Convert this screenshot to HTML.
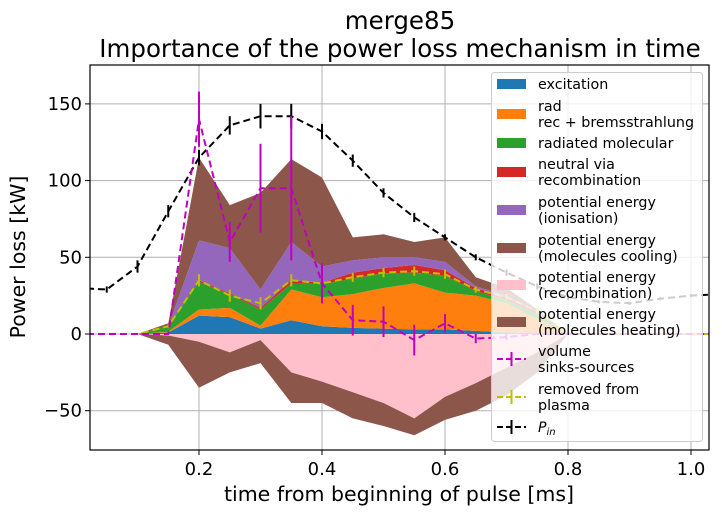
<!DOCTYPE html>
<html><head><meta charset="utf-8"><style>
body{margin:0;background:#fff;}
svg{display:block;font-family:"DejaVu Sans","Liberation Sans",sans-serif;}
</style></head><body>
<svg id="chart" width="722" height="515" viewBox="0 0 722 515" xmlns="http://www.w3.org/2000/svg">
<text x="400" y="29" text-anchor="middle" font-size="24.5">merge85</text>
<text x="400" y="57" text-anchor="middle" font-size="24.5">Importance of the power loss mechanism in time</text>
<g id="grid"></g>
<g id="areas"></g>
<g id="lines"></g>
<g id="axes"></g>
<text x="399" y="501" text-anchor="middle" font-size="20.5">time from beginning of pulse [ms]</text>
<text transform="translate(25,257) rotate(-90)" text-anchor="middle" font-size="20.5">Power loss [kW]</text>
<g id="legend"></g>
</svg>
<script>
const times = [0,0.05,0.1,0.15,0.2,0.25,0.3,0.35,0.4,0.45,0.5,0.55,0.6,0.65,0.7,0.75,0.8,0.85,0.9,0.95,1.0,1.05];
const excitation = [0,0,0,1,12,11,3.5,9,5,4,3.5,3,3,2,1,0.5,0,0,0,0,0,0];
const radRec = [0,0,0,0.5,4,6,2,20,19,22,26.5,30,24,23,19,9.5,0,0,0,0,0,0];
const radMol = [0,0,0,3.5,18,9,10.5,4,8.5,10,9.5,7,11,3,2,3,0,0,0,0,0,0];
const neutralRec = [0,0,0,0,1,0.5,1,2,1,4,3.5,5,3.5,2,2,1,0,0,0,0,0,0];
const potIon = [0,0,0,0,26,29.5,12,25,10.5,8,7,5,5.5,1,1,1,0,0,0,0,0,0];
const potMolCool = [0,0,0,2,54,28,63,54,58,15,15,10,16,6,5,1,0,0,0,0,0,0];
const potRecomb = [0,0,0,-1,-5,-12,-4,-25,-31,-38,-45,-55,-41,-32,-22,-12,0,0,0,0,0,0];
const potMolHeat = [0,0,0,-6,-30,-13,-15,-20,-14,-17,-15,-11,-15,-18,-18,-13,0,0,0,0,0,0];
const volume = [0,0,0,0,140,60,95,95,33,9,8,-4,7,-3,-2,0,0,0,0,0,0,0];
const volumeErr = [0,0,0,0,18,13,29,47,13,10,10,10,6,3,2,0,0,0,0,0,0,0];
const removed = [0,0,0,5,35,25,20,35,33,37,40,41,39,29,24,15,0,0,0,0,0,0];
const removedErr = [0,0,0,1,4,4,4,4,4,3,3,3,3,2,2,2,0,0,0,0,0,0];
const pin = [30,29,44,80,115,136,142,142,132,113,92,76,63,50,40,31,24,21,20,23,25,26];
const pinErr = [2,2,4,4,5,6,8,8,5,4,3,3,2,2,2,2,2,1,1,1,1,1];
const xTicks = [0.2,0.4,0.6,0.8,1.0];
const xTickLabels = ["0.2","0.4","0.6","0.8","1.0"];
const yTicks = [-50,0,50,100,150];
const yTickLabels = ["−50","0","50","100","150"];

const L=90,R=709,T=65,B=450;
const X0=76, XS=615, Y0=334, YS=1.534;
function xs(t){return X0+t*XS;}
function ys(v){return Y0-v*YS;}
const NS="http://www.w3.org/2000/svg";
function mk(tag,attrs,parent){const e=document.createElementNS(NS,tag);for(const k in attrs)e.setAttribute(k,attrs[k]);parent.appendChild(e);return e;}
const grid=document.getElementById('grid'),areas=document.getElementById('areas'),lines=document.getElementById('lines'),axes=document.getElementById('axes'),legend=document.getElementById('legend');

xTicks.forEach((t,i)=>{
  const g=mk('line',{x1:xs(t),x2:xs(t),y1:T,y2:B,stroke:'#b0b0b0','stroke-width':1},grid);
  
  
  const tk=mk('line',{x1:xs(t),x2:xs(t),y1:B,y2:B+5,stroke:'#000','stroke-width':1},axes);
  
  
  const tx=mk('text',{x:xs(t),y:B+25,'text-anchor':'middle','font-size':18},axes);
  tx.textContent=xTickLabels[i];
  
  
});
yTicks.forEach((v,i)=>{
  const g=mk('line',{x1:L,x2:R,y1:ys(v),y2:ys(v),stroke:'#b0b0b0','stroke-width':1},grid);
  
  
  const tk=mk('line',{x1:L-5,x2:L,y1:ys(v),y2:ys(v),stroke:'#000','stroke-width':1},axes);
  
  
  const tx=mk('text',{x:L-8,y:ys(v)+6,'text-anchor':'end','font-size':18},axes);
  tx.textContent=yTickLabels[i];
  
  
});
const frame=mk('rect',{x:L,y:T,width:R-L,height:B-T,fill:'none',stroke:'#000','stroke-width':1.2},axes);



const defs=mk('defs',{},document.getElementById('chart'));
const cp=mk('clipPath',{id:'clip'},defs);
mk('rect',{x:L,y:T,width:R-L,height:B-T},cp);
areas.setAttribute('clip-path','url(#clip)');
lines.setAttribute('clip-path','url(#clip)');

function band(lo,hi,color,name){
  let d='M';
  times.forEach((t,i)=>{d+=(i?'L':'')+xs(t).toFixed(1)+','+ys(hi[i]).toFixed(1);});
  for(let i=times.length-1;i>=0;i--)d+='L'+xs(times[i]).toFixed(1)+','+ys(lo[i]).toFixed(1);
  const p=mk('path',{d:d+'Z',fill:color,stroke:'none'},areas);
  
  
}
const pos=[excitation,radRec,radMol,neutralRec,potIon,potMolCool];
const posCol=['#1f77b4','#ff7f0e','#2ca02c','#d62728','#9467bd','#8c564b'];
const posNames=['excitation-area','rad-rec-area','radiated-molecular-area','neutral-recombination-area','ionisation-area','molecules-cooling-area'];
let cum=times.map(()=>0);
pos.forEach((s,k)=>{const nc=cum.map((c,i)=>c+s[i]);band(cum,nc,posCol[k],posNames[k]);cum=nc;});
let nc1=potRecomb.slice();
band(times.map(()=>0),nc1,'#ffc0cb','recombination-area');
let nc2=nc1.map((c,i)=>c+potMolHeat[i]);
band(nc1,nc2,'#8c564b','molecules-heating-area');

function errLine(vals,errs,color,name){
  const pts=times.map((t,i)=>xs(t).toFixed(1)+','+ys(vals[i]).toFixed(1)).join(' ');
  const pl=mk('polyline',{points:pts,fill:'none',stroke:color,'stroke-width':2,'stroke-dasharray':'7,4'},lines);
  
  
  times.forEach((t,i)=>{
    const e=mk('line',{x1:xs(t),x2:xs(t),y1:ys(vals[i]+errs[i]),y2:ys(vals[i]-errs[i]),stroke:color,'stroke-width':2},lines);
    
    
  });
}
errLine(pin,pinErr,'#000','pin');
errLine(removed,removedErr,'#bfbf00','removed');
errLine(volume,volumeErr,'#bf00bf','volume');

const lg=mk('rect',{x:491.5,y:72.5,width:211,height:369,rx:3,fill:'#fff','fill-opacity':0.8,stroke:'#ccc'},legend);


const entries=[
 {c:'#1f77b4',t:['excitation'],y:84},
 {c:'#ff7f0e',t:['rad','rec + bremsstrahlung'],y:114},
 {c:'#2ca02c',t:['radiated molecular'],y:143},
 {c:'#d62728',t:['neutral via','recombination'],y:172},
 {c:'#9467bd',t:['potential energy','(ionisation)'],y:210},
 {c:'#8c564b',t:['potential energy','(molecules cooling)'],y:248},
 {c:'#ffc0cb',t:['potential energy','(recombination)'],y:285},
 {c:'#8c564b',t:['potential energy','(molecules heating)'],y:322},
 {c:'#bf00bf',t:['volume','sinks-sources'],y:359,line:1},
 {c:'#bfbf00',t:['removed from','plasma'],y:397,line:1},
 {c:'#000',t:['P_in'],y:427,line:1}
];
entries.forEach(en=>{
  const g=mk('g',{},legend);
  
  
  if(en.line){
    mk('line',{x1:497,x2:526,y1:en.y,y2:en.y,stroke:en.c,'stroke-width':2,'stroke-dasharray':'6,3'},g);
    mk('line',{x1:511.5,x2:511.5,y1:en.y-7,y2:en.y+7,stroke:en.c,'stroke-width':2},g);
  } else {
    mk('rect',{x:497,y:en.y-5,width:29,height:10,fill:en.c},g);
  }
  if(en.t[0]==='P_in'){
    const tx=mk('text',{x:538,y:en.y+5,'font-size':14,'font-style':'italic'},g);
    tx.textContent='P';
    const s=mk('tspan',{dy:3,'font-size':10},tx);s.textContent='in';
  } else if(en.t.length===1){
    const tx=mk('text',{x:538,y:en.y+5,'font-size':14.3},g);tx.textContent=en.t[0];
  } else {
    en.t.forEach((s,j)=>{const tx=mk('text',{x:538,y:en.y-3+j*16,'font-size':14.3},g);tx.textContent=s;});
  }
});
</script>
</body></html>
